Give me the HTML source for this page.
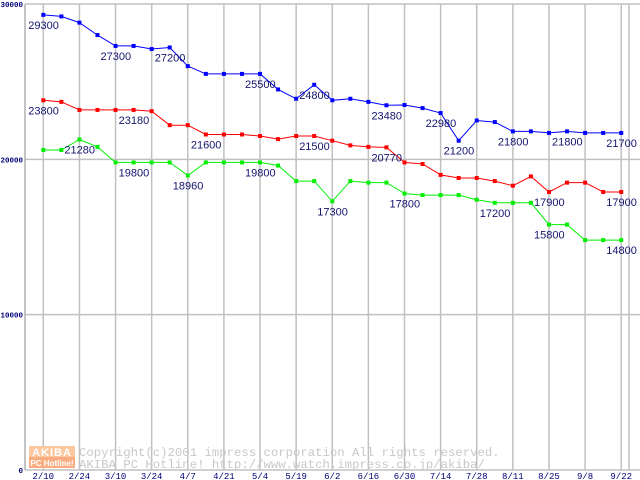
<!DOCTYPE html>
<html><head><meta charset="utf-8"><style>
html,body{margin:0;padding:0;background:#fff;}
svg{display:block;}
</style></head><body>
<svg id="chart" width="640" height="480" xmlns="http://www.w3.org/2000/svg">
<rect x="0" y="0" width="640" height="480" fill="#fff"/>
<g id="grid"></g>
<g id="watermark">
<rect x="29" y="446" width="46" height="11" fill="#fcc8a0"/>
<rect x="29" y="457" width="46" height="11" fill="#f8ac80"/>
<text x="52" y="456" font-family="Liberation Sans, sans-serif" font-size="11" font-weight="bold" fill="#fff" text-anchor="middle" letter-spacing="1">AKIBA</text>
<text x="52" y="466" font-family="Liberation Sans, sans-serif" font-size="8" font-weight="bold" fill="#fff" text-anchor="middle">PC Hotline!</text>
<text x="79" y="456" font-family="Liberation Mono, monospace" font-size="12.3" fill="#c8c8c8">Copyright(c)2001 impress corporation All rights reserved.</text>
<text x="79" y="468" font-family="Liberation Mono, monospace" font-size="12.3" fill="#c8c8c8">AKIBA PC Hotline!  http://www.watch.impress.co.jp/akiba/</text>
</g>
<g id="series"></g>
<g id="labels"></g>
<g id="axes"></g>
</svg>
<script>
const xTickLabels = ["2/10","2/24","3/10","3/24","4/7","4/21","5/4","5/19","6/2","6/16","6/30","7/14","7/28","8/11","8/25","9/8","9/22"];
const yTicks = [0,10000,20000,30000];
const blueValues = [29300,29200,28800,28000,27300,27300,27100,27200,26000,25500,25500,25500,25500,24500,23900,24800,23800,23900,23700,23480,23500,23300,22980,21200,22500,22400,21800,21800,21700,21800,21700,21700,21700];
const redValues = [23800,23700,23180,23180,23180,23180,23100,22200,22200,21600,21600,21600,21500,21300,21500,21500,21200,20900,20800,20770,19800,19700,19000,18800,18800,18600,18300,18900,17900,18500,18500,17900,17900];
const greenValues = [20600,20600,21280,20800,19800,19800,19800,19800,18960,19800,19800,19800,19800,19600,18600,18600,17300,18600,18500,18500,17800,17700,17700,17700,17400,17200,17200,17200,15800,15800,14800,14800,14800];
const blueLabelIdx = [0,4,7,12,15,19,22,23,26,29,32];
const redLabelIdx = [0,5,9,15,19,28,32];
const greenLabelIdx = [2,5,8,12,16,20,25,28,32];

const NS="http://www.w3.org/2000/svg";
const x0=43.3, step=18.06, yBase=470, yTop=4, yMax=30000;
function xPos(i){return x0+step*i;}
function yPos(v){return yBase-(v/yMax)*(yBase-yTop);}
function mk(tag,attrs,parent){const e=document.createElementNS(NS,tag);for(const k in attrs)e.setAttribute(k,attrs[k]);parent.appendChild(e);return e;}

const grid=document.getElementById('grid');
const axes=document.getElementById('axes');
for(let k=0;k<xTickLabels.length;k++){
  const x=xPos(k*2);
  const l=mk('line',{x1:x,x2:x,y1:yTop,y2:yBase,stroke:'#c0c0c0','stroke-width':1.5},grid);
  
  
  const t=mk('text',{x:x,y:479,'font-family':'Liberation Mono, monospace','font-size':9,fill:'#00007a','text-anchor':'middle'},axes);
  t.textContent=xTickLabels[k];
  
  
}
const rl=mk('line',{x1:629,x2:629,y1:yTop,y2:yBase,stroke:'#c0c0c0','stroke-width':1.5},grid);


for(const v of yTicks){
  const y=yPos(v);
  const l=mk('line',{x1:25,x2:640,y1:y,y2:y,stroke:'#c0c0c0','stroke-width':1.5},grid);
  
  
  const t=mk('text',{x:23,y:Math.min(y+3,473),'font-family':'Liberation Mono, monospace','font-size':7.5,'font-weight':'bold',fill:'#00007a','text-anchor':'end'},axes);
  t.textContent=String(v);
  
  
}
const ya=mk('line',{x1:25,x2:25,y1:yTop,y2:yBase,stroke:'#b0b0b0','stroke-width':1.5},grid);



const seriesG=document.getElementById('series');
const labelsG=document.getElementById('labels');
function drawSeries(vals,color,name,labelIdx){
  const pts=vals.map((v,i)=>xPos(i).toFixed(1)+','+yPos(v).toFixed(1)).join(' ');
  const pl=mk('polyline',{points:pts,fill:'none',stroke:color,'stroke-width':1},seriesG);
  
  
  vals.forEach((v,i)=>{
    const r=mk('rect',{x:xPos(i)-2,y:yPos(v)-2,width:4,height:4,fill:color},seriesG);
    
    
  });
  labelIdx.forEach(i=>{
    const t=mk('text',{x:xPos(i)-15,y:yPos(vals[i])+14,'font-family':'Liberation Sans, sans-serif','font-size':11,fill:'#14146e'},labelsG);
    t.textContent=String(vals[i]);
    
    
  });
}
drawSeries(blueValues,'#0000ff','blue-series',blueLabelIdx);
drawSeries(redValues,'#ff0000','red-series',redLabelIdx);
drawSeries(greenValues,'#00f000','green-series',greenLabelIdx);
</script>
</body></html>
